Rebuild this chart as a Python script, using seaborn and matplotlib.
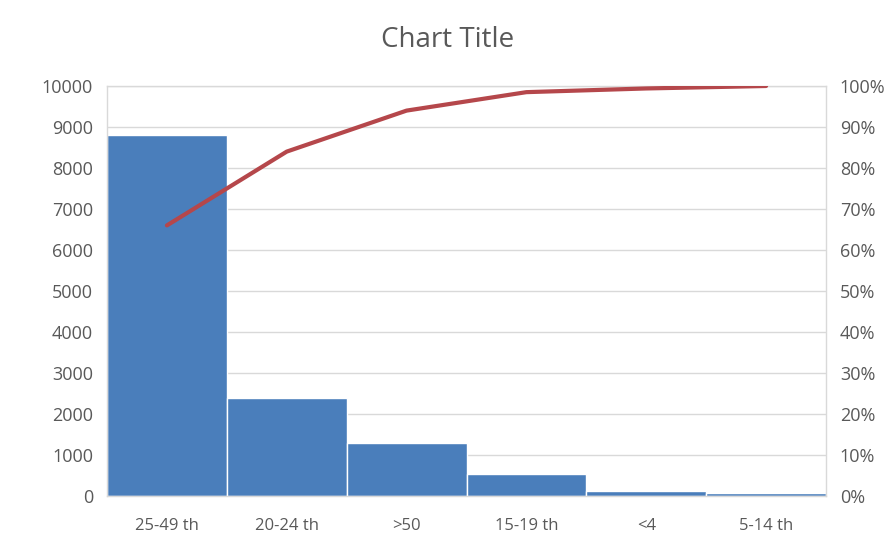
import numpy as np
import pandas as pd
import matplotlib
matplotlib.use("Agg")
import matplotlib.pyplot as plt
from matplotlib.ticker import PercentFormatter
import seaborn as sns

# ── Data ───────────────────────────────────────────────────────
categories = ["25-49 th", "20-24 th", ">50", "15-19 th", "<4", "5-14 th"]
counts = [8800, 2380, 1300, 540, 110, 75]
cumulative_pct = [66.0, 84.0, 94.0, 98.5, 99.4, 100.0]

BAR_COLOR = "#4a7ebb"
LINE_COLOR = "#b5474b"
GRID_COLOR = "#d9d9d9"
TEXT_COLOR = "#595959"

sns.set_style("white")
plt.rcParams["font.family"] = ["Open Sans", "DejaVu Sans"]

df = pd.DataFrame({"cat": categories, "count": counts, "cum": cumulative_pct})

fig = plt.figure(figsize=(8.96, 5.42), dpi=100)
ax = fig.add_axes([107 / 896, 1 - 496 / 542, (826 - 107) / 896, (496 - 86) / 542])

sns.barplot(data=df, x="cat", y="count", color=BAR_COLOR, width=1.0,
            saturation=1, edgecolor="white", linewidth=1, ax=ax)
ax.set_xlim(-0.5, len(categories) - 0.5)
ax.set_ylim(0, 10000)
ax.set_yticks(np.arange(0, 10001, 1000))
ax.yaxis.grid(True, color=GRID_COLOR, lw=1)
ax.set_axisbelow(True)
ax.set_xlabel("")
ax.set_ylabel("")
for s in ax.spines.values():
    s.set_color(GRID_COLOR)
    s.set_linewidth(1)
ax.tick_params(axis="y", colors=TEXT_COLOR, labelsize=13, length=0, pad=10)
ax.tick_params(axis="x", colors=TEXT_COLOR, labelsize=12, length=0, pad=16)

ax2 = ax.twinx()
sns.lineplot(x=np.arange(len(categories)), y=df["cum"], color=LINE_COLOR,
             lw=3, sort=False, ax=ax2)
ax2.set_ylim(0, 100)
ax2.set_yticks(np.arange(0, 101, 10))
ax2.yaxis.set_major_formatter(PercentFormatter(decimals=0))
ax2.set_ylabel("")
for s in ax2.spines.values():
    s.set_visible(False)
ax2.tick_params(colors=TEXT_COLOR, labelsize=13, length=0, pad=10)

fig.text(0.5, 1 - 40 / 542, "Chart Title", ha="center", va="center",
         fontsize=20, color=TEXT_COLOR)

fig.savefig("out.png", dpi=100)
plt.close(fig)
